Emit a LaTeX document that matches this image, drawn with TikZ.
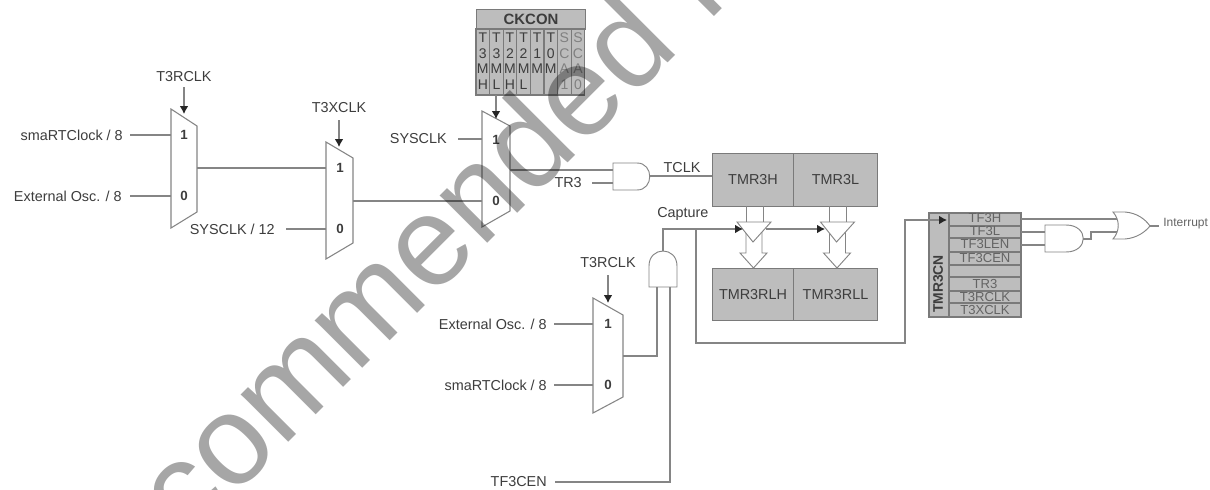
\documentclass[tikz,border=0pt]{standalone}
\usepackage{fontspec}
\setmainfont{Liberation Sans}
\usetikzlibrary{arrows.meta}
\definecolor{wire}{gray}{0.52}
\definecolor{boxfill}{gray}{0.74}
\definecolor{boxline}{gray}{0.48}
\definecolor{ink}{gray}{0.24}
\definecolor{inklight}{gray}{0.5}
\tikzset{
  wirel/.style={draw=wire,line width=0.8pt},
  headed/.style={wirel,-{Latex[length=6pt,width=6.5pt,color=black!85]}},
  muxshape/.style={draw=wire,line width=0.8pt,fill=white},
  gate/.style={draw=wire,line width=0.7pt,fill=white},
  reg/.style={draw=boxline,line width=0.8pt,fill=boxfill},
  lab/.style={text=ink,inner sep=0pt,font=\fontsize{10.8}{12}\selectfont},
  labr/.style={lab,anchor=east},
  digit/.style={text=ink,inner sep=0pt,font=\fontsize{10}{12}\selectfont\bfseries},
  bit/.style={inner sep=0pt,font=\fontsize{10.5}{12}\selectfont},
  rowt/.style={text=ink!80,inner sep=0pt,font=\fontsize{9.8}{11}\selectfont},
  regt/.style={reg,inner sep=0pt,anchor=north west,text=ink,font=\fontsize{10.8}{12}\selectfont},
  hollow/.style={draw=wire,line width=0.7pt,fill=white},
}
\begin{document}
\begin{tikzpicture}[x=0.75pt,y=-0.75pt]
\useasboundingbox (0,0) rectangle (1210,489);
\clip (0,0) rectangle (1210,489);
\fill[white] (0,0) rectangle (1210,489);

% ---- mux 1
\path[muxshape] (171,109) -- (197,126) -- (197,212) -- (171,228) -- cycle;
\node[digit] (m1a) at (184,135) {1};
\node[digit] (m1b) at (184,196) {0};
\node[labr] (in1a) at (123,135) {smaRTClock / 8};
\node[labr] (in1b) at (122,196) {External Osc. / 8};
\coordinate (m1ia) at (171,135); \coordinate (m1ib) at (171,196);
\coordinate (w1a) at (130,135); \coordinate (w1b) at (130,196);
\draw[wirel] (w1a) -- (m1ia);
\draw[wirel] (w1b) -- (m1ib);
\node[lab] (s1) at (184,77) {T3RCLK};
\coordinate (s1a) at (184,87); \coordinate (s1b) at (184,114);
\draw[headed] (s1a) -- (s1b);

% ---- mux 2
\path[muxshape] (326,142) -- (353,158) -- (353,243) -- (326,259) -- cycle;
\node[digit] (m2a) at (340,168) {1};
\node[digit] (m2b) at (340,229) {0};
\coordinate (m1o) at (197,168); \coordinate (m2ia) at (326,168);
\draw[wirel] (m1o) -- (m2ia);
\node[labr] (in2b) at (275,229) {SYSCLK / 12};
\coordinate (w2b) at (286,229); \coordinate (m2ib) at (326,229);
\draw[wirel] (w2b) -- (m2ib);
\node[lab] (s2) at (339,108) {T3XCLK};
\coordinate (s2a) at (339,120); \coordinate (s2b) at (339,147);
\draw[headed] (s2a) -- (s2b);

% ---- mux 3
\path[muxshape] (482,111) -- (510,126) -- (510,211) -- (482,227) -- cycle;
\node[digit] (m3a) at (496,140) {1};
\node[digit] (m3b) at (496,201) {0};
\coordinate (m2o) at (353,201); \coordinate (m3ib) at (482,201);
\draw[wirel] (m2o) -- (m3ib);
\node[labr] (in3a) at (447,139) {SYSCLK};
\coordinate (w3a) at (458,139); \coordinate (m3ia) at (482,139);
\draw[wirel] (w3a) -- (m3ia);

% ---- CKCON
\node[regt,minimum width=109*0.75pt,minimum height=20*0.75pt,font=\fontsize{11.2}{12}\selectfont\bfseries] (ck) at (476,9) {CKCON};
\foreach \i/\a/\b/\c/\d/\col in {0/T/3/M/H/ink,1/T/3/M/L/ink,2/T/2/M/H/ink,3/T/2/M/L/ink,4/T/1/M//ink,5/T/0/M//ink,6/S/C/A/1/inklight,7/S/C/A/0/inklight}{
  \path[reg] (476+\i*13.6,29) rectangle (476+\i*13.6+13.6,95);
  \node[bit,text=\col] (ckb\i a) at (482.8+\i*13.6,38) {\a};
  \node[bit,text=\col] (ckb\i b) at (482.8+\i*13.6,54) {\b};
  \node[bit,text=\col] (ckb\i c) at (482.8+\i*13.6,69) {\c};
  \node[bit,text=\col] (ckb\i d) at (482.8+\i*13.6,85) {\d};
}
\coordinate (s3a) at (496,95); \coordinate (s3b) at (496,119);
\draw[headed] (s3a) -- (s3b);

% ---- AND clock
\coordinate (m3o) at (510,170); \coordinate (a1ia) at (613,170);
\draw[wirel] (m3o) -- (a1ia);
\node[labr] (tr3) at (582,183) {TR3};
\coordinate (wtr3) at (592,183); \coordinate (a1ib) at (613,183);
\draw[wirel] (wtr3) -- (a1ib);
\path[gate] (613,163) -- (637,163) .. controls (654,163) and (654,190) .. (637,190) -- (613,190) -- cycle;
\coordinate (a1o) at (650,176);
\node[regt,minimum width=81*0.75pt,minimum height=53*0.75pt] (th) at (712,153) {TMR3H};
\node[regt,minimum width=84*0.75pt,minimum height=53*0.75pt] (tl) at (793,153) {TMR3L};
\node[regt,minimum width=81*0.75pt,minimum height=52*0.75pt] (rh) at (712,268) {TMR3RLH};
\node[regt,minimum width=84*0.75pt,minimum height=52*0.75pt] (rl) at (793,268) {TMR3RLL};
\coordinate (thw) at (712,176);
\draw[wirel] (a1o) -- (thw);
\node[lab] (tclk) at (682,168) {TCLK};

% ---- capture gates
\foreach \dx/\n in {0/a,83.5/b}{
  \path[hollow] (746+\dx,206) -- (746+\dx,222) (763+\dx,206) -- (763+\dx,222);
  \path[hollow] (746+\dx,232) -- (746+\dx,253) -- (740+\dx,253) -- (753.5+\dx,268) -- (767+\dx,253) -- (762+\dx,253) -- (762+\dx,232) -- cycle;
  \path[hollow] (737+\dx,222) -- (771+\dx,222) -- (753+\dx,242) -- cycle;
}
\node[lab,anchor=west] (cap) at (657,214) {Capture};
\coordinate (a2t) at (663,251);
\coordinate (capc) at (663,229);
\coordinate (capj) at (696,229);
\coordinate (g1) at (743,229);
\coordinate (g1o) at (766,229);
\coordinate (g2) at (825,229);
\draw[wirel] (a2t) -- (capc) -- (capj);
\draw[headed] (capj) -- (g1);
\draw[headed] (g1o) -- (g2);

% ---- mux 4
\path[muxshape] (593,298) -- (623,315) -- (623,397) -- (593,413) -- cycle;
\node[digit] (m4a) at (608,324) {1};
\node[digit] (m4b) at (608,385) {0};
\node[labr] (in4a) at (547,324) {External Osc. / 8};
\node[labr] (in4b) at (547,385) {smaRTClock / 8};
\coordinate (w4a) at (554,324); \coordinate (m4ia) at (593,324);
\coordinate (w4b) at (554,385); \coordinate (m4ib) at (593,385);
\draw[wirel] (w4a) -- (m4ia);
\draw[wirel] (w4b) -- (m4ib);
\node[lab] (s4) at (608,263) {T3RCLK};
\coordinate (s4a) at (608,275); \coordinate (s4b) at (608,303);
\draw[headed] (s4a) -- (s4b);

% ---- AND capture
\path[gate] (649,287) -- (649,266) .. controls (649,246) and (677,246) .. (677,266) -- (677,287) -- cycle;
\coordinate (m4o) at (623,356); \coordinate (a2ia) at (657,287);
\draw[wirel] (m4o) -| (a2ia);
\node[labr] (tf3cen) at (547,482) {TF3CEN};
\coordinate (wtf) at (555,482); \coordinate (a2ib) at (670,287);
\draw[wirel] (wtf) -| (a2ib);

% ---- TMR3CN
\path[reg] (929,213) rectangle (1021,317);
\draw[draw=boxline,line width=0.8pt] (949,213) -- (949,317);
\foreach \y in {226,238,252,265,277,291,303}{\draw[draw=boxline,line width=0.8pt] (949,\y) -- (1021,\y);}
\node[text=ink,inner sep=0pt,rotate=90,font=\fontsize{10.4}{12}\selectfont\bfseries] (cn) at (938,284) {TMR3CN};
\node[rowt] (r1) at (985,218) {TF3H};
\node[rowt] (r2) at (985,231) {TF3L};
\node[rowt] (r3) at (985,244) {TF3LEN};
\node[rowt] (r4) at (985,258) {TF3CEN};
\node[rowt] (r6) at (985,284) {TR3};
\node[rowt] (r7) at (985,297) {T3RCLK};
\node[rowt] (r8) at (985,310) {T3XCLK};
\coordinate (cb1) at (696,343); \coordinate (cb2) at (905,343); \coordinate (cb3) at (905,220); \coordinate (cb4) at (947,220);
\draw[headed] (capj) -- (cb1) -- (cb2) -- (cb3) -- (cb4);

% ---- interrupt logic
\path[gate] (1045,225) -- (1066,225) .. controls (1089,225) and (1089,252) .. (1066,252) -- (1045,252) -- cycle;
\coordinate (rt1) at (1021,219); \coordinate (or1) at (1117,219);
\coordinate (rt2) at (1021,232); \coordinate (a3a) at (1045,232);
\coordinate (rt3) at (1021,245); \coordinate (a3b) at (1045,245);
\draw[wirel] (rt1) -- (or1);
\draw[wirel] (rt2) -- (a3a);
\draw[wirel] (rt3) -- (a3b);
\coordinate (a3o) at (1083,239); \coordinate (j1) at (1091,239); \coordinate (j2) at (1091,232); \coordinate (or2) at (1117,232);
\draw[wirel] (a3o) -- (j1) -- (j2) -- (or2);
\path[gate] (1113,212) .. controls (1120,220) and (1120,231) .. (1113,239) -- (1125,239) .. controls (1137,238) and (1145,232) .. (1150,226) .. controls (1145,219) and (1137,213) .. (1125,212) -- cycle;
\coordinate (oro) at (1150,226); \coordinate (oe) at (1159,226);
\draw[wirel] (oro) -- (oe);
\node[anchor=west,text=ink!80,inner sep=0pt,font=\fontsize{9}{10}\selectfont] (int) at (1163,224) {Interrupt};

% ---- watermark
\node[text=black,opacity=0.35,rotate=45,anchor=base west,inner sep=0pt,font=\fontsize{95.3}{99}\selectfont] (wm) at (187,544) {commended f};
\end{tikzpicture}
\end{document}
